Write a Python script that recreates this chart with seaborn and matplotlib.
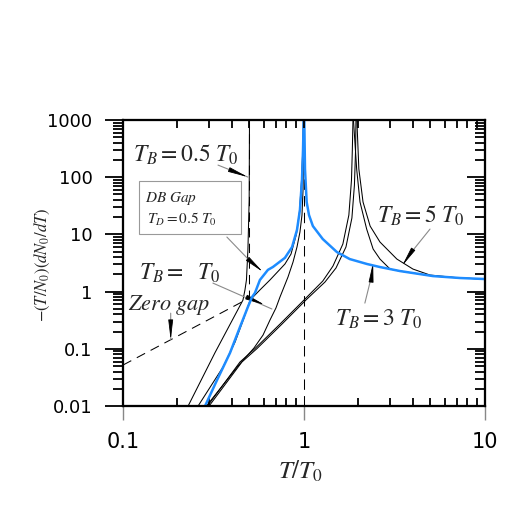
import numpy as np
import pandas as pd
import seaborn as sns
import matplotlib.pyplot as plt
from matplotlib.ticker import FixedLocator, FixedFormatter, LogLocator, NullFormatter
from matplotlib.patches import Rectangle

# values: T/T0 and -(T/N0)(dN0/dT)
tb05_x = [0.229, 0.322, 0.46, 0.472, 0.481, 0.49, 0.498, 0.5]
tb05_y = [0.01, 0.085, 0.71, 1.07, 1.6, 5.3, 40, 1000]

zero_x = [0.1, 0.49, 0.5, 0.5]
zero_y = [0.052, 0.75, 0.85, 1000]

db_left_x = [0.284, 0.331, 0.39, 0.443, 0.49, 0.516, 0.536, 0.571, 0.632, 0.674, 0.785, 0.859, 0.915, 0.95, 0.975, 0.988, 0.996]
db_left_y = [0.01, 0.0285, 0.0845, 0.24, 0.54, 0.80, 0.95, 1.6, 2.4, 2.7, 3.9, 6.0, 12, 27, 90, 300, 1000]
db_right_x = [1.004, 1.013, 1.035, 1.066, 1.12, 1.27, 1.52, 1.79, 2.23, 2.63, 3.39, 5.16, 7.28, 10]
db_right_y = [1000, 139, 36.8, 21.8, 14.0, 8.3, 4.92, 3.71, 3.04, 2.69, 2.29, 1.87, 1.73, 1.66]

# black curve running under the blue shoulder
mid_x = [0.26, 0.306, 0.357, 0.416, 0.466, 0.497, 0.516, 0.571, 0.649, 0.785, 0.848, 0.909, 0.944, 0.968, 0.985, 0.991]
mid_y = [0.01, 0.0224, 0.048, 0.131, 0.345, 0.63, 0.77, 1.07, 1.60, 3.04, 4.54, 10.2, 24.6, 82, 299, 1000]

tb1_x = [0.289, 0.432, 0.529, 0.594, 0.649, 0.70, 0.737, 0.816, 0.87, 0.915, 0.95, 0.975, 0.988, 0.995, 0.998]
tb1_y = [0.01, 0.050, 0.103, 0.174, 0.319, 0.517, 0.805, 1.80, 3.29, 6.03, 11.0, 21.8, 59.7, 299, 1000]

tb3_left_x = [0.293, 0.443, 0.536, 0.737, 1.013, 1.27, 1.446, 1.64, 1.77, 1.83, 1.85, 1.865]
tb3_left_y = [0.01, 0.0588, 0.101, 0.271, 0.743, 1.53, 2.80, 6.79, 21.8, 89, 299, 1000]
tb3_right_x = [1.877, 1.955, 2.04, 2.22, 2.41, 2.63, 2.99, 3.39, 5.16, 7.28, 10]
tb3_right_y = [1000, 139, 36.8, 12.4, 5.56, 3.71, 2.48, 2.29, 1.87, 1.73, 1.66]

tb5_left_x = [0.299, 0.454, 0.55, 0.756, 1.039, 1.306, 1.503, 1.706, 1.84, 1.90, 1.928, 1.938]
tb5_left_y = [0.01, 0.0588, 0.101, 0.271, 0.743, 1.47, 2.59, 6.03, 19.4, 73, 299, 1000]
tb5_right_x = [1.96, 2.01, 2.12, 2.32, 2.63, 3.26, 4.0, 4.97, 7.28, 10]
tb5_right_y = [1000, 139, 36.8, 14.0, 7.36, 3.71, 2.48, 1.95, 1.73, 1.66]

x_ticks = [0.1, 1, 10]
x_labels = ['0.1', '1', '10']
y_ticks = [0.01, 0.1, 1, 10, 100, 1000]
y_labels = ['0.01', '0.1', '1', '10', '100', '1000']

sns.set_theme(style='ticks')
plt.rcParams['font.family'] = ['DejaVu Sans']
plt.rcParams['mathtext.fontset'] = 'stix'
plt.rcParams['axes.linewidth'] = 1.5
plt.rcParams['axes.edgecolor'] = 'black'

fig = plt.figure(figsize=(5.12, 5.26), dpi=100)
ax = fig.add_axes([0.2402, 0.2281, 0.7070, 0.5437])

black = dict(color='black', lw=0.75)
for xs, ys in [(tb05_x, tb05_y), (mid_x, mid_y), (tb1_x, tb1_y),
               (tb3_left_x, tb3_left_y), (tb3_right_x, tb3_right_y),
               (tb5_left_x, tb5_left_y), (tb5_right_x, tb5_right_y)]:
    sns.lineplot(x=xs, y=ys, ax=ax, sort=False, estimator=None, **black)

sns.lineplot(x=zero_x, y=zero_y, ax=ax, sort=False, estimator=None,
             color='black', lw=0.75, linestyle=(0, (9, 6)))
ax.axvline(1, color='black', lw=0.75, linestyle=(0, (10, 6)))

for xs, ys in [(db_left_x, db_left_y), (db_right_x, db_right_y)]:
    sns.lineplot(x=xs, y=ys, ax=ax, sort=False, estimator=None,
                 color='#1e8cff', lw=1.8, zorder=5)

ax.set_xscale('log')
ax.set_yscale('log')
ax.set_xlim(0.1, 10)
ax.set_ylim(0.01, 1000)
ax.set_xlabel('')
ax.set_ylabel('')

ax.xaxis.set_major_locator(FixedLocator(x_ticks))
ax.xaxis.set_major_formatter(FixedFormatter(x_labels))
ax.xaxis.set_minor_locator(LogLocator(base=10, subs=np.arange(2, 10)))
ax.xaxis.set_minor_formatter(NullFormatter())
ax.yaxis.set_major_locator(FixedLocator(y_ticks))
ax.yaxis.set_major_formatter(FixedFormatter(y_labels))
ax.yaxis.set_minor_locator(LogLocator(base=10, subs=np.arange(2, 10)))
ax.yaxis.set_minor_formatter(NullFormatter())

ax.tick_params(axis='y', which='major', direction='out', length=13, width=1.3,
               pad=9, labelsize=13, colors='black')
ax.tick_params(axis='y', which='minor', direction='out', length=7, width=1.3, color='black')
ax.tick_params(axis='x', which='major', direction='out', length=10, width=1.0,
               pad=9, labelsize=15, color='#888888', labelcolor='black')
ax.tick_params(axis='x', which='minor', direction='in', length=5.5, width=1.3, color='black')

# right and top ticks point inwards
ax_r = ax.twinx()
ax_r.set_yscale('log')
ax_r.set_ylim(0.01, 1000)
ax_r.yaxis.set_major_locator(FixedLocator(y_ticks))
ax_r.yaxis.set_minor_locator(LogLocator(base=10, subs=np.arange(2, 10)))
ax_r.yaxis.set_major_formatter(NullFormatter())
ax_r.yaxis.set_minor_formatter(NullFormatter())
ax_r.tick_params(axis='y', which='major', direction='in', length=13, width=1.3, color='black')
ax_r.tick_params(axis='y', which='minor', direction='in', length=7, width=1.3, color='black')

ax_t = ax.twiny()
ax_t.set_xscale('log')
ax_t.set_xlim(0.1, 10)
ax_t.xaxis.set_major_locator(FixedLocator(x_ticks))
ax_t.xaxis.set_minor_locator(LogLocator(base=10, subs=np.arange(2, 10)))
ax_t.xaxis.set_major_formatter(NullFormatter())
ax_t.xaxis.set_minor_formatter(NullFormatter())
ax_t.tick_params(axis='x', which='both', direction='in', length=5.5, width=1.3, color='black')

fig.text(42 / 512, 1 - 265 / 526, r'$-(T/N_0)(dN_0/dT)$', rotation=90,
         ha='center', va='center', fontsize=12)
fig.text(300 / 512, 1 - 471 / 526, r'$T/T_0$', ha='center', va='center', fontsize=18)

# labels
ax.text(0.0276, 0.8776, r'$T_B = 0.5\ T_0$', transform=ax.transAxes, fontsize=17, va='center')
ax.text(0.0608, 0.7273, r'$DB\ Gap$', transform=ax.transAxes, fontsize=11, va='center')
ax.text(0.0663, 0.6538, r'$T_D = 0.5\ T_0$', transform=ax.transAxes, fontsize=11, va='center')
ax.add_patch(Rectangle((0.0442, 0.6014), 0.2818, 0.1853, transform=ax.transAxes,
                       fill=False, ec='#999999', lw=0.8))
ax.text(0.0442, 0.465, r'$T_B =\ \ T_0$', transform=ax.transAxes, fontsize=17, va='center')
ax.text(0.0138, 0.353, r'$Zero\ gap$', transform=ax.transAxes, fontsize=16, va='center')
ax.text(0.7017, 0.6643, r'$T_B = 5\ T_0$', transform=ax.transAxes, fontsize=17, va='center')
ax.text(0.5856, 0.3042, r'$T_B = 3\ T_0$', transform=ax.transAxes, fontsize=17, va='center')


def pointer(start, end, head_base, tip):
    ax.annotate('', xy=end, xytext=start,
                arrowprops=dict(arrowstyle='-', color='#8a8a8a', lw=0.8,
                                shrinkA=0, shrinkB=0))
    ax.annotate('', xy=tip, xytext=head_base,
                arrowprops=dict(arrowstyle='-|>,head_length=1.0,head_width=0.12',
                                color='black', lw=0.6, shrinkA=0, shrinkB=0))


pointer((0.335, 163), (0.49, 100.7), (0.432, 118), (0.49, 100.7))
pointer((0.375, 9.0), (0.497, 3.57), (0.497, 3.57), (0.594, 2.20))
pointer((0.314, 1.41), (0.665, 0.497), (0.509, 0.743), (0.609, 0.583))
pointer((0.1835, 0.42), (0.1835, 0.1425), (0.1835, 0.2), (0.1835, 0.1425))
pointer((4.97, 12.4), (3.85, 4.54), (3.85, 4.54), (3.48, 2.80))
pointer((2.17, 0.63), (2.37, 1.95), (2.37, 1.95), (2.41, 3.29))

fig.savefig('out.png', dpi=100)
